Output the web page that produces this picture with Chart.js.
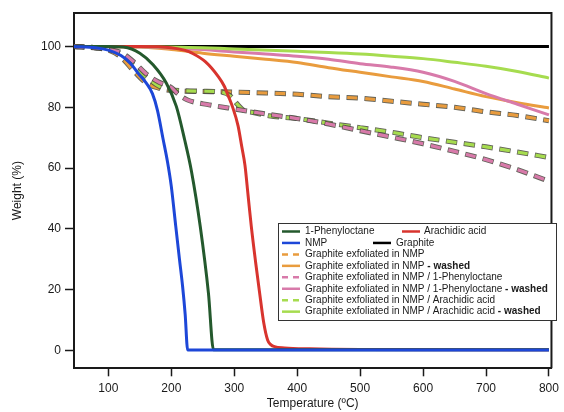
<!DOCTYPE html>
<html><head><meta charset="utf-8">
<script src="https://cdn.jsdelivr.net/npm/chart.js@4.4.1/dist/chart.umd.min.js"></script>
<style>html,body{margin:0;padding:0;background:#fff;}canvas{display:block}</style>
</head><body>
<canvas id="c" width="564" height="412"></canvas>
<script>
// ---- tick labels ----
const xTicks = [100, 200, 300, 400, 500, 600, 700, 800];
const yTicks = [0, 20, 40, 60, 80, 100];

// ---- series (temperature °C / weight %) ----
const tNMP = [45, 80, 100, 120, 135, 148, 160, 170, 178, 187, 194, 200, 207, 213, 218, 222, 226, 800];
const wNMP = [100, 99.6, 98.8, 97, 94.5, 91, 88, 84.5, 79, 69.5, 62, 54, 41, 30, 21, 12, 0.2, 0.2];

const tPhenyl = [45, 100, 124, 150, 171, 192, 208, 221, 232, 246, 259, 267, 800];
const wPhenyl = [100, 100, 99.8, 97.8, 94, 88, 80.3, 69.5, 59, 40.8, 18.9, 0.3, 0.3];

const tArach = [45, 150, 200, 222, 233, 254, 275, 284, 291, 297, 306, 312, 317, 322, 327, 334, 340, 347, 353, 358, 364, 380, 420, 500, 800];
const wArach = [100, 100, 99.6, 98.7, 97.8, 95, 90, 87, 83.5, 80.3, 74, 67, 61, 51, 41, 29, 19.5, 9, 3.5, 2, 1.3, 0.9, 0.6, 0.4, 0.3];

const tGraphite = [45, 800];
const wGraphite = [100, 100];

const tExNMP = [45, 60, 80, 100, 120, 140, 160, 180, 200, 250, 300, 350, 400, 450, 500, 550, 600, 650, 700, 750, 800];
const wExNMP = [100, 99.8, 99.5, 98.8, 96.5, 92, 88, 86.3, 85.5, 85.2, 85, 84.7, 84.3, 83.5, 83, 82, 81, 80, 78.5, 77.3, 75.6];

const tExNMPw = [45, 150, 200, 250, 300, 350, 400, 450, 500, 550, 600, 650, 700, 750, 800];
const wExNMPw = [100, 99.8, 99, 97.8, 96.8, 95.8, 94.7, 93, 91.5, 90, 88.5, 86, 83.5, 81.5, 79.8];

const tExPh = [45, 80, 100, 120, 140, 160, 180, 200, 210, 225, 260, 290, 320, 350, 400, 450, 500, 550, 600, 650, 700, 750, 800];
const wExPh = [100, 99.6, 99, 98, 95, 91, 88.3, 86.5, 84.5, 82.5, 80.8, 79.8, 78.8, 77.8, 76.3, 74.5, 72.3, 70.2, 68, 65.5, 62.8, 59.5, 55.7];

const tExPhw = [45, 150, 200, 250, 300, 350, 400, 450, 500, 550, 600, 650, 700, 750, 800];
const wExPhw = [100, 99.8, 99.5, 99, 98.2, 97.5, 96.8, 95.8, 94.3, 93.2, 91.5, 88.5, 84.5, 81, 77.5];

const tExAr = [45, 80, 100, 120, 140, 160, 180, 200, 250, 280, 295, 305, 315, 330, 355, 400, 450, 500, 550, 600, 650, 700, 750, 800];
const wExAr = [100, 99.6, 99, 97.5, 94, 90, 87, 85.8, 85.3, 85, 83.5, 81, 79, 78.3, 77.2, 76.3, 74.8, 73.3, 71.8, 70, 68.5, 67, 65.3, 63.5];

const tExArw = [45, 200, 300, 400, 450, 500, 550, 600, 650, 700, 750, 800];
const wExArw = [100, 99.8, 99.2, 98.4, 98, 97.5, 96.8, 96, 94.8, 93.5, 91.8, 89.6];

// ---- names ----
const seriesNames = [
  "1-Phenyloctane", "Arachidic acid", "NMP", "Graphite",
  "Graphite exfoliated in NMP", "Graphite exfoliated in NMP",
  "Graphite exfoliated in NMP / 1-Phenyloctane", "Graphite exfoliated in NMP / 1-Phenyloctane",
  "Graphite exfoliated in NMP / Arachidic acid", "Graphite exfoliated in NMP / Arachidic acid"
];
const seriesSuffix = ["", "", "", "", "", "- washed", "", "- washed", "", "- washed"];

const FONT = "'Liberation Sans', Arial, Helvetica, sans-serif";
const C = {
  dkgreen: '#24592d', red: '#d8342e', blue: '#1d47d8', black: '#000000',
  orange: '#e99c3e', pink: '#d87aaa', lime: '#a6dc4f'
};

function pts(T, W) { return T.map((t, i) => ({ x: t, y: W[i] })); }

const specs = [
  { i: 2, T: tNMP, W: wNMP, color: C.blue, dashed: false, order: 0 },
  { i: 0, T: tPhenyl, W: wPhenyl, color: C.dkgreen, dashed: false, order: 1 },
  { i: 1, T: tArach, W: wArach, color: C.red, dashed: false, order: 2 },
  { i: 6, T: tExPh, W: wExPh, color: C.pink, dashed: true, order: 3 },
  { i: 8, T: tExAr, W: wExAr, color: C.lime, dashed: true, order: 5 },
  { i: 4, T: tExNMP, W: wExNMP, color: C.orange, dashed: true, order: 7 },
  { i: 9, T: tExArw, W: wExArw, color: C.lime, dashed: false, order: 9 },
  { i: 7, T: tExPhw, W: wExPhw, color: C.pink, dashed: false, order: 10 },
  { i: 5, T: tExNMPw, W: wExNMPw, color: C.orange, dashed: false, order: 11 },
  { i: 3, T: tGraphite, W: wGraphite, color: C.black, dashed: false, order: 12 }
];

const datasets = [];
specs.forEach(s => {
  const base = {
    label: seriesNames[s.i] + (seriesSuffix[s.i] ? ' ' + seriesSuffix[s.i] : ''),
    data: pts(s.T, s.W),
    pointRadius: 0,
    cubicInterpolationMode: 'monotone',
    fill: false
  };
  if (s.dashed) {
    datasets.push(Object.assign({}, base, {
      borderColor: s.color, borderWidth: 3.2, borderDash: [10, 8], borderCapStyle: 'butt',
      order: s.order, legendIndex: s.i, dashed: true
    }));
    datasets.push(Object.assign({}, base, {
      label: base.label + ' outline',
      borderColor: 'rgba(70,70,60,0.85)', borderWidth: 5, borderDash: [11.4, 6.6], borderDashOffset: 0.7,
      borderCapStyle: 'butt', order: s.order + 1, isOutline: true
    }));
  } else {
    datasets.push(Object.assign({}, base, {
      borderColor: s.color, borderWidth: 3, order: s.order, legendIndex: s.i, dashed: false
    }));
  }
});

const framePlugin = {
  id: 'frame',
  afterDraw(chart) {
    const { ctx, chartArea: a } = chart;
    ctx.save();
    ctx.strokeStyle = '#1a1a1a';
    ctx.lineWidth = 2;
    ctx.beginPath();
    ctx.moveTo(a.left, a.top); ctx.lineTo(a.right, a.top); ctx.lineTo(a.right, a.bottom);
    ctx.stroke();
    ctx.restore();
  }
};

const legendPlugin = {
  id: 'customLegend',
  afterDraw(chart) {
    const { ctx } = chart;
    const box = { x: 278.5, y: 223.5, w: 278, h: 97 };
    ctx.save();
    ctx.fillStyle = '#ffffff';
    ctx.fillRect(box.x, box.y, box.w, box.h);
    ctx.strokeStyle = '#333';
    ctx.lineWidth = 1;
    ctx.strokeRect(box.x, box.y, box.w, box.h);
    const byIdx = {};
    chart.data.datasets.forEach(d => { if (d.legendIndex !== undefined) byIdx[d.legendIndex] = d; });
    const layout = [
      [0, 282, 305, 0], [1, 402, 424, 0],
      [2, 282, 305, 1], [3, 373, 396, 1],
      [4, 282, 305, 2], [5, 282, 305, 3],
      [6, 282, 305, 4], [7, 282, 305, 5],
      [8, 282, 305, 6], [9, 282, 305, 7]
    ];
    const rowY0 = 231.5, rowH = 11.45;
    layout.forEach(([idx, sx, tx, row]) => {
      const d = byIdx[idx];
      const y = rowY0 + row * rowH;
      ctx.lineWidth = 2.5;
      ctx.strokeStyle = d.borderColor;
      ctx.setLineDash(d.dashed ? [6, 5] : []);
      ctx.beginPath();
      ctx.moveTo(sx, y); ctx.lineTo(sx + 18, y);
      ctx.stroke();
      ctx.setLineDash([]);
      ctx.fillStyle = '#1a1a1a';
      ctx.textBaseline = 'middle';
      ctx.textAlign = 'left';
      ctx.font = '10px ' + FONT;
      const main = seriesNames[idx];
      ctx.fillText(main, tx, y);
      if (seriesSuffix[idx]) {
        const w = ctx.measureText(main + ' ').width;
        ctx.font = 'bold 10px ' + FONT;
        ctx.fillText(seriesSuffix[idx], tx + w, y);
      }
    });
    ctx.restore();
  }
};

new Chart(document.getElementById('c'), {
  type: 'line',
  data: { datasets },
  plugins: [framePlugin, legendPlugin],
  options: {
    responsive: false,
    animation: false,
    devicePixelRatio: 1,
    layout: { padding: { top: 13, right: 7.5, left: 0, bottom: 0 } },
    plugins: { legend: { display: false }, tooltip: { enabled: false } },
    scales: {
      x: {
        type: 'linear', min: 45.4, max: 804,
        afterFit: s => { s.height = 43.7; },
        afterBuildTicks: s => { s.ticks = xTicks.map(v => ({ value: v })); },
        grid: { drawOnChartArea: false, drawTicks: true, tickLength: 8, tickWidth: 1.5, tickColor: '#1a1a1a' },
        border: { display: true, width: 2, color: '#1a1a1a' },
        ticks: { color: '#1a1a1a', font: { family: FONT, size: 12 }, padding: 5, maxRotation: 0 },
        title: { display: true, text: 'Temperature (ºC)', color: '#1a1a1a', font: { family: FONT, size: 12 }, padding: { top: 0, bottom: 1 } }
      },
      y: {
        type: 'linear', min: -5.8, max: 111,
        afterFit: s => { s.width = 74; },
        afterBuildTicks: s => { s.ticks = yTicks.map(v => ({ value: v })); },
        grid: { drawOnChartArea: false, drawTicks: true, tickLength: 9, tickWidth: 1.5, tickColor: '#1a1a1a' },
        border: { display: true, width: 2, color: '#1a1a1a' },
        ticks: { color: '#1a1a1a', font: { family: FONT, size: 12 }, padding: 4 },
        title: { display: true, text: 'Weight (%)', color: '#1a1a1a', font: { family: FONT, size: 12 }, padding: { top: 10, bottom: 0 } }
      }
    }
  }
});
</script>
</body></html>
